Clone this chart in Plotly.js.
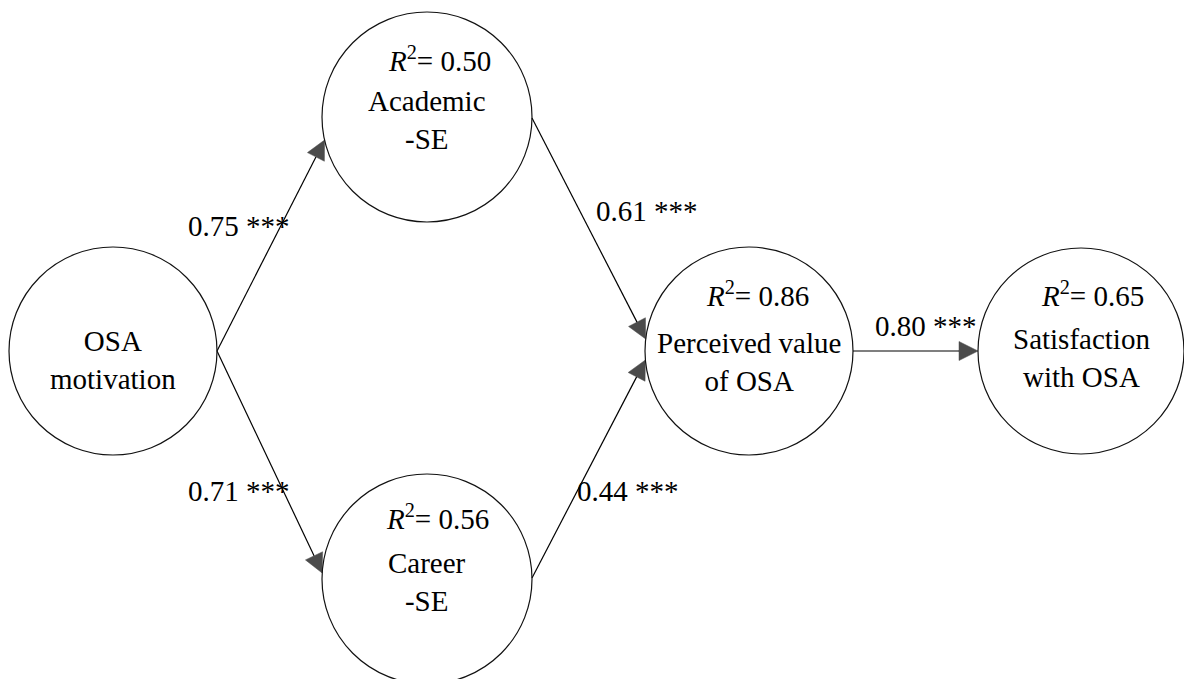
<!DOCTYPE html>
<html>
<head>
<meta charset="utf-8">
<script src="https://cdn.plot.ly/plotly-3.0.1.min.js"></script>
<style>html,body{margin:0;padding:0;background:#fff;}#chart{width:1184px;height:679px;}</style>
</head>
<body>
<div id="chart"></div>
<script>
// ---- data ----
const nodeNames = ['OSA<br>motivation', 'Academic<br>-SE', 'Career<br>-SE', 'Perceived value<br>of OSA', 'Satisfaction<br>with OSA'];
const rSquared = [null, '0.50', '0.56', '0.86', '0.65'];
const pathFrom = [0, 0, 1, 2, 3];
const pathTo = [1, 2, 3, 3, 4];
const pathCoef = ['0.75', '0.71', '0.61', '0.44', '0.80'];
const pathSig = ['***', '***', '***', '***', '***'];

// ---- layout (positions / sizes) ----
const nodeX = [113, 427, 427, 749, 1081];
const nodeY = [351, 117, 579, 351, 351];
const nodeR = [104, 105, 105, 104, 103];
const nameDy = [9, 3, 3, 11, 7];
const r2Dx = [0, 12, 10, 8, 11];
const r2Dy = [0, -58, -62, -57, -57];
const srcDy = [0, 0, 1, -1, 0];
const dstDy = [23, -6, -12, 9, 0];
const labelX = [239, 239, 647, 628, 926];
const labelY = [226, 491, 211, 491, 326];

const FONT = {family: 'Liberation Serif', size: 29, color: '#000'};

const shapes = [];
const annotations = [];
const traces = [];

nodeNames.forEach((name, i) => {
  shapes.push({type: 'circle', xref: 'x', yref: 'y',
    x0: nodeX[i] - nodeR[i], x1: nodeX[i] + nodeR[i],
    y0: nodeY[i] - nodeR[i], y1: nodeY[i] + nodeR[i],
    line: {color: '#111', width: 1.2}, fillcolor: 'rgba(0,0,0,0)'});
  annotations.push({x: nodeX[i], y: nodeY[i] + nameDy[i], xref: 'x', yref: 'y',
    text: name, showarrow: false, font: FONT, xanchor: 'center', yanchor: 'middle'});
  if (rSquared[i] !== null) {
    annotations.push({x: nodeX[i] + r2Dx[i], y: nodeY[i] + r2Dy[i], xref: 'x', yref: 'y',
      text: '<i>R</i><sup>2</sup>= ' + rSquared[i], showarrow: false, font: FONT,
      xanchor: 'center', yanchor: 'middle'});
  }
});

function rightPort(i, dy) { return [nodeX[i] + Math.sqrt(nodeR[i] * nodeR[i] - dy * dy), nodeY[i] + dy]; }
function leftPort(i, dy) { return [nodeX[i] - Math.sqrt(nodeR[i] * nodeR[i] - dy * dy), nodeY[i] + dy]; }

pathFrom.forEach((s, k) => {
  const t = pathTo[k];
  const a = rightPort(s, srcDy[k]);
  const b = leftPort(t, dstDy[k]);
  traces.push({type: 'scatter', mode: 'lines+markers', x: [a[0], b[0]], y: [a[1], b[1]],
    line: {color: '#000', width: 1.2},
    marker: {symbol: 'arrow-up', size: [0, 19], angleref: 'previous', color: '#000', line: {width: 0.5, color: '#000'}},
    hoverinfo: 'skip', showlegend: false, cliponaxis: false});
  annotations.push({x: labelX[k], y: labelY[k], xref: 'x', yref: 'y',
    text: pathCoef[k] + ' ' + pathSig[k], showarrow: false, font: FONT,
    xanchor: 'center', yanchor: 'middle'});
});

const layout = {
  width: 1184, height: 679,
  margin: {l: 0, r: 0, t: 0, b: 0},
  paper_bgcolor: '#fff', plot_bgcolor: '#fff',
  font: FONT,
  xaxis: {range: [0, 1184], visible: false, fixedrange: true},
  yaxis: {range: [679, 0], visible: false, fixedrange: true},
  showlegend: false,
  shapes: shapes,
  annotations: annotations
};

Plotly.newPlot('chart', traces, layout, {staticPlot: true, displayModeBar: false});
</script>
</body>
</html>
